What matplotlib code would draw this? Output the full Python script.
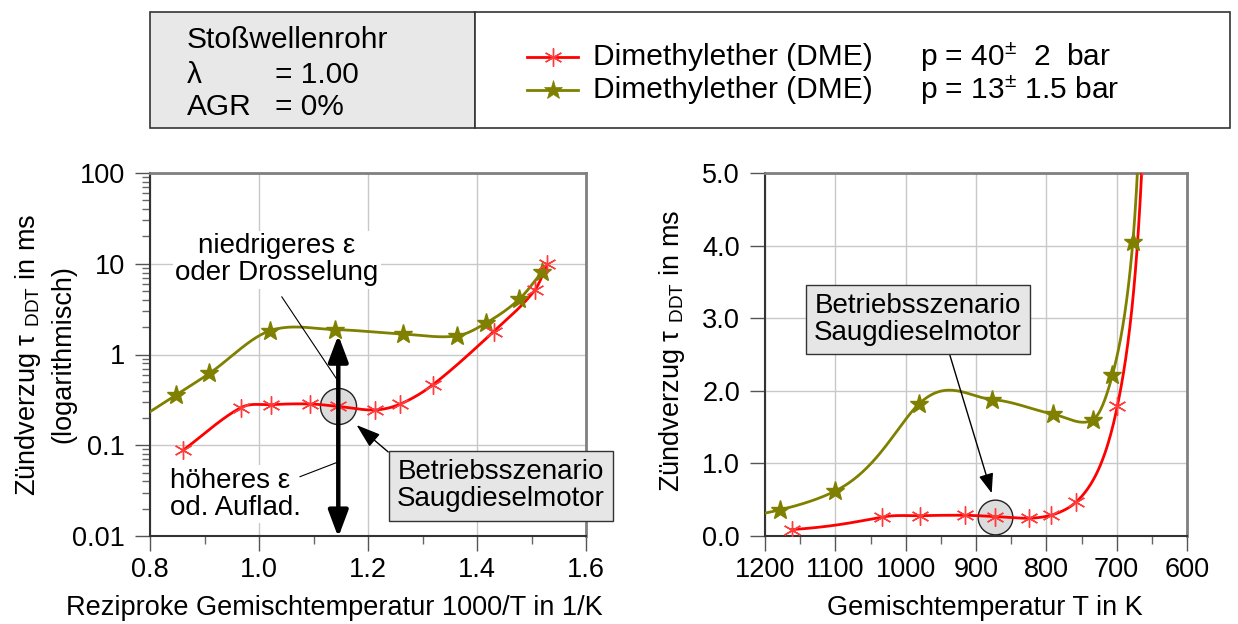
import numpy as np
import matplotlib
matplotlib.use("Agg")
import matplotlib.pyplot as plt
from matplotlib.patches import Rectangle
from matplotlib.lines import Line2D
from matplotlib.ticker import FixedLocator, NullFormatter, LogLocator

plt.rcParams['font.family'] = ['Liberation Sans', 'DejaVu Sans']
plt.rcParams['mathtext.fontset'] = 'custom'
plt.rcParams['mathtext.rm'] = 'Liberation Sans'
plt.rcParams['mathtext.it'] = 'Liberation Sans:italic'
plt.rcParams['mathtext.bf'] = 'Liberation Sans:bold'

# ---------------- data ----------------
T_dme40 = np.array([1162, 1034, 979, 915, 873, 825, 794, 758, 699, 664, 654])
tau_dme40 = np.array([0.088, 0.26, 0.28, 0.285, 0.268, 0.245, 0.285, 0.465, 1.79, 5.1, 9.9])
T_dme13 = np.array([1179, 1100, 981, 877, 791, 734, 706, 677, 658])
tau_dme13 = np.array([0.36, 0.62, 1.82, 1.88, 1.68, 1.60, 2.22, 4.05, 8.2])
series_names = ["Dimethylether (DME)", "Dimethylether (DME)"]
pressure_texts = [r"p = 40$^{\pm}$  2  bar", r"p = 13$^{\pm}$ 1.5 bar"]
info_title = "Stoßwellenrohr"
info_rows = [("λ", "= 1.00"), ("AGR", "= 0%")]
op_index = 4  # operating point "Saugdieselmotor" in DME 40 bar series

left_xticks = [0.8, 1.0, 1.2, 1.4, 1.6]
left_xlabels = ["0.8", "1.0", "1.2", "1.4", "1.6"]
left_yticks = [0.01, 0.1, 1, 10, 100]
left_ylabels = ["0.01", "0.1", "1", "10", "100"]
right_xticks = [1200, 1100, 1000, 900, 800, 700, 600]
right_yticks = [0, 1, 2, 3, 4, 5]
right_ylabels = ["0.0", "1.0", "2.0", "3.0", "4.0", "5.0"]

RED = '#ff0000'
RED_M = '#ff3b3b'
OLIVE = '#808000'
FS_TICK = 19.5
FS_TXT = 20


def smooth(x, y, n=60, x0=None):
    """Hermite (Catmull-Rom type) smoothing in log space through data points."""
    ly = np.log10(y)
    m = np.empty_like(ly)
    m[1:-1] = (ly[2:] - ly[:-2]) / (x[2:] - x[:-2])
    m[0] = (ly[1] - ly[0]) / (x[1] - x[0])
    m[-1] = (ly[-1] - ly[-2]) / (x[-1] - x[-2])
    xs, ys = [], []
    if x0 is not None and x0 < x[0]:
        xe = np.linspace(x0, x[0], 10, endpoint=False)
        xs.append(xe)
        ys.append(ly[0] + m[0] * (xe - x[0]))
    t = np.linspace(0, 1, n)
    h00 = 2 * t**3 - 3 * t**2 + 1
    h10 = t**3 - 2 * t**2 + t
    h01 = -2 * t**3 + 3 * t**2
    h11 = t**3 - t**2
    for i in range(len(x) - 1):
        h = x[i + 1] - x[i]
        xs.append(x[i] + t * h)
        ys.append(h00 * ly[i] + h10 * h * m[i] + h01 * ly[i + 1] + h11 * h * m[i + 1])
    return np.concatenate(xs), 10 ** np.concatenate(ys)


x40 = 1000.0 / T_dme40
x13 = 1000.0 / T_dme13
sx40, sy40 = smooth(x40, tau_dme40)
sx13, sy13 = smooth(x13, tau_dme13, x0=0.78)

W, H = 1238, 624
fig = plt.figure(figsize=(W / 100, H / 100), dpi=100)


def fx(px):
    return px / W


def fy(py):
    return 1 - py / H


# ---------------- header box ----------------
fig.patches.append(Rectangle((fx(150), fy(128)), fx(475) - fx(150), fy(12) - fy(128),
                             transform=fig.transFigure, fc='#e8e8e8', ec='#333333', lw=1.2))
fig.patches.append(Rectangle((fx(475), fy(128)), fx(1230) - fx(475), fy(12) - fy(128),
                             transform=fig.transFigure, fc='white', ec='#333333', lw=1.2))
FS_LEG = 21.5
fig.text(fx(187), fy(40), info_title, fontsize=FS_LEG, ha='left', va='center')
for (k, v), py in zip(info_rows, [75, 107]):
    fig.text(fx(187), fy(py), k, fontsize=FS_LEG, ha='left', va='center')
    fig.text(fx(275), fy(py), v, fontsize=FS_LEG, ha='left', va='center')

leg_styles = [dict(color=RED, marker=(6, 2, 0), mec=RED_M, ms=13, mew=1.0),
              dict(color=OLIVE, marker='*', mec=OLIVE, mfc=OLIVE, ms=14, mew=0.5)]
for st, name, ptxt, py in zip(leg_styles, series_names, pressure_texts, [57, 90]):
    fig.add_artist(Line2D([fx(527), fx(578)], [fy(py), fy(py)], transform=fig.transFigure,
                          color=st['color'], lw=2))
    fig.add_artist(Line2D([fx(552.5)], [fy(py)], transform=fig.transFigure, ls='none',
                          marker=st['marker'], mec=st['mec'], mfc=st.get('mfc', st['mec']),
                          ms=st['ms'], mew=st['mew']))
    fig.text(fx(593), fy(py), name, fontsize=FS_LEG, ha='left', va='center')
    fig.text(fx(920), fy(py), ptxt, fontsize=FS_LEG, ha='left', va='center')

# ---------------- axes ----------------
ax1 = fig.add_axes([fx(150), fy(536), fx(586) - fx(150), fy(173) - fy(536)])
ax2 = fig.add_axes([fx(765), fy(536), fx(1187) - fx(765), fy(173) - fy(536)])

for ax in (ax1, ax2):
    ax.set_axisbelow(True)
    ax.grid(True, which='major', color='#c8c8c8', lw=1.0)
    for s in ('left', 'bottom'):
        ax.spines[s].set_color('#333333')
        ax.spines[s].set_linewidth(1.5)
    for s in ('top', 'right'):
        ax.spines[s].set_color('#808080')
        ax.spines[s].set_linewidth(2.0)
    ax.tick_params(which='major', direction='out', length=11, width=1.0, color='#555555',
                   labelsize=FS_TICK)
    ax.tick_params(which='minor', direction='out', length=6, width=1.0, color='#666666')
    ax.tick_params(axis='y', pad=7)
    ax.tick_params(axis='x', pad=4)

# left axes (log)
ax1.set_yscale('log')
ax1.set_xlim(0.8, 1.6)
ax1.set_ylim(0.01, 100)
ax1.set_xticks(left_xticks)
ax1.set_xticklabels(left_xlabels)
ax1.xaxis.set_minor_locator(FixedLocator([0.9, 1.1, 1.3, 1.5]))
ax1.set_yticks(left_yticks)
ax1.set_yticklabels(left_ylabels)
ax1.yaxis.set_minor_locator(LogLocator(base=10, subs=np.arange(2, 10)))
ax1.yaxis.set_minor_formatter(NullFormatter())

ax1.plot(sx13, sy13, color=OLIVE, lw=2, zorder=3)
ax1.plot(x13, tau_dme13, ls='none', marker='*', color=OLIVE, ms=14, zorder=4)
ax1.plot(sx40, sy40, color=RED, lw=2, zorder=3)
ax1.plot(x40, tau_dme40, ls='none', marker=(6, 2, 0), mec=RED_M, ms=13, mew=1.0, zorder=4)

xo, yo = x40[op_index], tau_dme40[op_index]
ax1.plot([xo], [yo], 'o', ms=26, mfc='#dcdcdc', mec='#222222', mew=1, zorder=2)

ax1.set_xlabel("Reziproke Gemischtemperatur 1000/T in 1/K", fontsize=FS_TICK)
ax1.xaxis.set_label_coords(0.424, -0.163)
ax1.set_ylabel("Zündverzug τ $_{\\mathrm{DDT}}$ in ms\n(logarithmisch)", fontsize=FS_TICK,
               linespacing=1.4)
ax1.yaxis.set_label_coords(-0.168, 0.50)

# double arrow
ax1.annotate('', xy=(xo, 0.0097), xytext=(xo, 1.64), annotation_clip=False,
             arrowprops=dict(arrowstyle='<|-|>,head_length=1.6,head_width=0.6', lw=3.2,
                             color='black', shrinkA=0, shrinkB=0, mutation_scale=10),
             zorder=6)
# texts
ax1.text(1.033, 11.0, "niedrigeres ε\noder Drosselung", fontsize=FS_TXT, ha='center',
         va='center', linespacing=1.05,
         bbox=dict(boxstyle='square,pad=0.1', fc='white', ec='none'), zorder=5)
ax1.annotate('', xy=(1.1437, 0.524), xytext=(1.0417, 4.33),
             arrowprops=dict(arrowstyle='-', lw=0.8, color='black', shrinkA=0, shrinkB=0),
             zorder=5)
ax1.text(0.8367, 0.029, "höheres ε\nod. Auflad.", fontsize=FS_TXT, ha='left', va='center',
         linespacing=1.05, bbox=dict(boxstyle='square,pad=0.1', fc='white', ec='none'), zorder=5)
ax1.annotate('', xy=(1.1437, 0.0649), xytext=(1.075, 0.045),
             arrowprops=dict(arrowstyle='-', lw=0.8, color='black', shrinkA=0, shrinkB=0),
             zorder=5)
ax1.annotate("Betriebsszenario\nSaugdieselmotor", xy=(1.179, 0.167), xytext=(1.444, 0.0356),
             fontsize=FS_TXT, ha='center', va='center', linespacing=1.05,
             bbox=dict(boxstyle='square,pad=0.3', fc='#e6e6e6', ec='#333333', lw=1),
             arrowprops=dict(arrowstyle='-|>,head_length=1.5,head_width=0.5', lw=1,
                             color='black', relpos=(0, 1), shrinkA=0, shrinkB=0,
                             mutation_scale=10),
             annotation_clip=False, zorder=7)

# right axes (linear, inverted T)
ax2.set_xlim(1200, 600)
ax2.set_ylim(0, 5)
ax2.set_xticks(right_xticks)
ax2.set_xticklabels([str(v) for v in right_xticks])
ax2.xaxis.set_minor_locator(FixedLocator([1150, 1050, 950, 850, 750, 650]))
ax2.set_yticks(right_yticks)
ax2.set_yticklabels(right_ylabels)

ax2.plot(1000.0 / sx13, sy13, color=OLIVE, lw=2, zorder=3)
ax2.plot(T_dme13, tau_dme13, ls='none', marker='*', color=OLIVE, ms=14, zorder=4)
ax2.plot(1000.0 / sx40, sy40, color=RED, lw=2, zorder=3)
ax2.plot(T_dme40, tau_dme40, ls='none', marker=(6, 2, 0), mec=RED_M, ms=13, mew=1.0, zorder=4)
ax2.plot([T_dme40[op_index]], [tau_dme40[op_index]], 'o', ms=25, mfc='#dcdcdc',
         mec='#222222', mew=1, zorder=2)

ax2.set_xlabel("Gemischtemperatur T in K", fontsize=FS_TICK)
ax2.xaxis.set_label_coords(0.52, -0.163)
ax2.set_ylabel("Zündverzug τ $_{\\mathrm{DDT}}$ in ms", fontsize=FS_TICK)
ax2.yaxis.set_label_coords(-0.185, 0.51)

ax2.annotate("Betriebsszenario\nSaugdieselmotor", xy=(877.7, 0.59), xytext=(982.4, 2.98),
             fontsize=FS_TXT, ha='center', va='center', linespacing=1.05,
             bbox=dict(boxstyle='square,pad=0.3', fc='#e6e6e6', ec='#333333', lw=1),
             arrowprops=dict(arrowstyle='-|>,head_length=1.2,head_width=0.45', lw=1,
                             color='black', relpos=(0.64, 0), shrinkA=0, shrinkB=0,
                             mutation_scale=10),
             zorder=7)

fig.savefig("out.png", dpi=100)
